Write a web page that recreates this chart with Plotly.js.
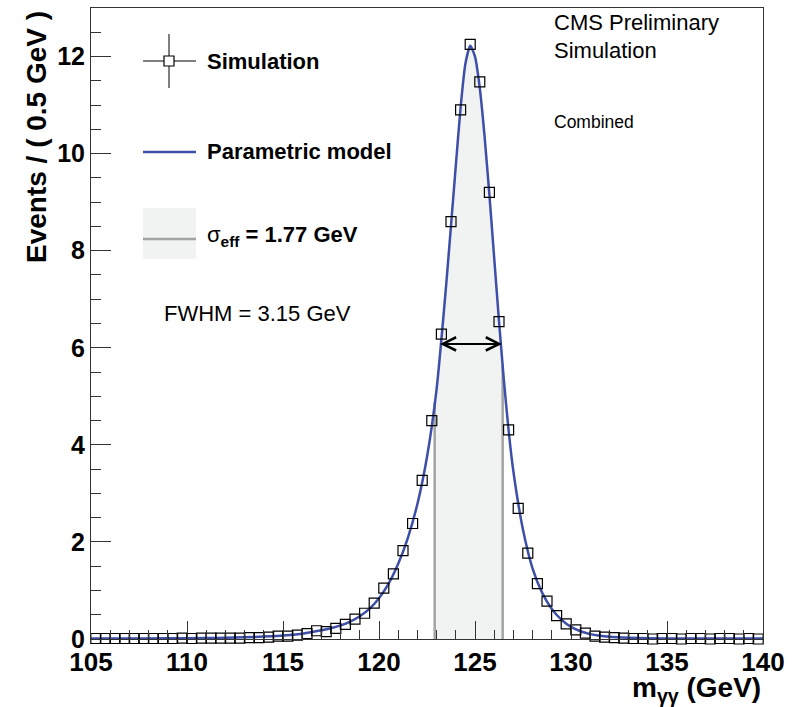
<!DOCTYPE html>
<html><head><meta charset="utf-8">
<script src="https://cdn.plot.ly/plotly-3.0.1.min.js"></script>
<style>body{margin:0;background:#fff}#chart{width:804px;height:707px}</style>
</head><body><div id="chart"></div>
<script>
// ---- data ----
const binCenters = [105.25,105.75,106.25,106.75,107.25,107.75,108.25,108.75,109.25,109.75,
  110.25,110.75,111.25,111.75,112.25,112.75,113.25,113.75,114.25,114.75,
  115.25,115.75,116.25,116.75,117.25,117.75,118.25,118.75,119.25,119.75,
  120.25,120.75,121.25,121.75,122.25,122.75,123.25,123.75,124.25,124.75,
  125.25,125.75,126.25,126.75,127.25,127.75,128.25,128.75,129.25,129.75,
  130.25,130.75,131.25,131.75,132.25,132.75,133.25,133.75,134.25,134.75,
  135.25,135.75,136.25,136.75,137.25,137.75,138.25,138.75,139.25,139.75];
const simEvents = [0.01,0.01,0.01,0.01,0.01,0.01,0.01,0.01,0.01,0.02,
  0.01,0.02,0.02,0.02,0.02,0.02,0.03,0.03,0.04,0.06,
  0.06,0.08,0.11,0.17,0.15,0.22,0.30,0.41,0.53,0.74,
  1.05,1.34,1.82,2.38,3.27,4.50,6.28,8.60,10.90,12.25,
  11.48,9.20,6.54,4.31,2.69,1.77,1.14,0.78,0.48,0.31,
  0.19,0.12,0.06,0.04,0.03,0.02,0.01,0.01,0.00,0.01,
  0.01,0.00,0.01,0.01,0.00,0.01,0.01,0.00,0.01,0.00];
const modelX = [105,107,109,111,112,113,114,115,116,117,117.5,118,118.5,119,119.5,120,120.5,121,121.5,122,122.5,123,123.5,124,124.25,124.5,124.75,125,125.25,125.5,125.75,126,126.25,126.5,126.75,127,127.5,128,128.5,129,129.5,130,130.5,131,131.5,132,133,134,136,140];
const modelY = [0.01,0.01,0.015,0.02,0.025,0.035,0.05,0.07,0.11,0.18,0.22,0.28,0.36,0.47,0.62,0.84,1.14,1.55,2.08,2.78,3.75,5.15,7.3,9.75,10.95,11.85,12.22,12.0,11.35,10.35,9.15,7.85,6.55,5.35,4.3,3.45,2.25,1.45,0.95,0.62,0.40,0.25,0.16,0.10,0.065,0.045,0.025,0.015,0.01,0.01];
const sigmaEffLo = 122.9, sigmaEffHi = 126.44;
const fwhmLo = 123.1, fwhmHi = 126.4, halfMax = 6.08;
const labels = {sim:'Simulation', model:'Parametric model', sigma:'1.77 GeV', fwhm:'FWHM = 3.15 GeV'};

// ---- helpers ----
function interp(x){
  for(let i=0;i<modelX.length-1;i++){
    if(x>=modelX[i] && x<=modelX[i+1]){
      const t=(x-modelX[i])/(modelX[i+1]-modelX[i]);
      return modelY[i]+t*(modelY[i+1]-modelY[i]);
    }
  }
  return 0;
}
const bandX=[sigmaEffLo], bandY=[interp(sigmaEffLo)];
modelX.forEach((x,i)=>{ if(x>sigmaEffLo && x<sigmaEffHi){bandX.push(x);bandY.push(modelY[i]);} });
bandX.push(sigmaEffHi); bandY.push(interp(sigmaEffHi));

const L=91, R=41, T=8, B=68, W=804, H=707;
const pw=W-L-R, ph=H-T-B;
const PX=p=>(p-L)/pw, PY=p=>(H-B-p)/ph;
const FONT='Liberation Sans, Arial, Helvetica, sans-serif';
const BLUE='#3d4fa8';

const traces=[
  {x:bandX,y:bandY,mode:'lines',fill:'tozeroy',fillcolor:'#f1f2f2',line:{width:0,color:'#f1f2f2'},hoverinfo:'skip',showlegend:false},
  {x:[sigmaEffLo,sigmaEffLo],y:[0,interp(sigmaEffLo)],mode:'lines',line:{color:'#a3a3a3',width:2.5},showlegend:false},
  {x:[sigmaEffHi,sigmaEffHi],y:[0,interp(sigmaEffHi)],mode:'lines',line:{color:'#a3a3a3',width:2.5},showlegend:false},
  {x:modelX,y:modelY,mode:'lines',line:{color:BLUE,width:2.5,shape:'spline',smoothing:0.6},showlegend:false},
  {x:binCenters,y:simEvents,mode:'markers',marker:{symbol:'square-open',size:10,color:'#000',line:{width:1.2,color:'#000'}},cliponaxis:false,showlegend:false}
];

const ann=(text,px,py,size,opts)=>Object.assign({text:text,xref:'paper',yref:'paper',x:PX(px),y:PY(py),xanchor:'left',yanchor:'middle',showarrow:false,font:{family:FONT,size:size,color:'#000'}},opts||{});

const layout={
  width:W,height:H,margin:{l:L,r:R,t:T,b:B},
  paper_bgcolor:'#fff',plot_bgcolor:'#fff',showlegend:false,
  font:{family:FONT,color:'#000'},
  xaxis:{range:[105,140],tick0:105,dtick:5,ticks:'inside',ticklen:18,tickwidth:1,tickcolor:'#333',
    minor:{dtick:1,ticks:'inside',ticklen:9,tickcolor:'#333',tickwidth:1},
    showline:true,linecolor:'#333',linewidth:1,mirror:true,showgrid:false,zeroline:false,
    tickfont:{family:FONT,size:26,weight:'bold',color:'#000'}},
  yaxis:{range:[0,13],tick0:0,dtick:2,ticks:'inside',ticklen:20,tickwidth:1,tickcolor:'#333',
    minor:{dtick:0.5,ticks:'inside',ticklen:10,tickcolor:'#333',tickwidth:1},
    showline:true,linecolor:'#333',linewidth:1,mirror:true,showgrid:false,zeroline:false,
    tickfont:{family:FONT,size:25,weight:'bold',color:'#000'}},
  shapes:[
    {type:'line',xref:'paper',yref:'paper',x0:PX(143),x1:PX(196),y0:PY(61),y1:PY(61),line:{color:'#000',width:1}},
    {type:'line',xref:'paper',yref:'paper',x0:PX(169),x1:PX(169),y0:PY(34),y1:PY(88),line:{color:'#000',width:1}},
    {type:'rect',xref:'paper',yref:'paper',x0:PX(164),x1:PX(174),y0:PY(56),y1:PY(66),fillcolor:'#fff',line:{color:'#000',width:1.2}},
    {type:'line',xref:'paper',yref:'paper',x0:PX(143),x1:PX(196),y0:PY(152),y1:PY(152),line:{color:BLUE,width:2.5}},
    {type:'rect',xref:'paper',yref:'paper',x0:PX(143),x1:PX(196),y0:PY(208),y1:PY(259),fillcolor:'#f1f2f2',line:{width:0}},
    {type:'line',xref:'paper',yref:'paper',x0:PX(143),x1:PX(196),y0:PY(239),y1:PY(239),line:{color:'#a3a3a3',width:2.5}}
  ],
  annotations:[
    ann('<b>'+labels.sim+'</b>',205,61,22),
    ann('<b>'+labels.model+'</b>',205,152,22),
    ann('σ<sub><b>eff</b></sub><b> = '+labels.sigma+'</b>',205,236,22),
    ann(labels.fwhm,162,313,22),
    ann('CMS Preliminary',552,23,22),
    ann('Simulation',552,50,22),
    ann('Combined',552,122,17.5),
    ann('<b>Events / ( 0.5 GeV )</b>',37,137,28,{xanchor:'center',textangle:-90}),
    ann('<b>m<sub>γγ</sub> (GeV)</b>',763,689,28,{xanchor:'right'}),
    {x:fwhmHi,y:halfMax,ax:fwhmLo,ay:halfMax,xref:'x',yref:'y',axref:'x',ayref:'y',text:'',showarrow:true,
     arrowside:'end+start',arrowhead:5,startarrowhead:5,arrowsize:1.3,startarrowsize:1.3,arrowwidth:2,arrowcolor:'#000',standoff:0,startstandoff:0}
  ]
};
Plotly.newPlot('chart',traces,layout,{displayModeBar:false,staticPlot:true});
</script></body></html>
